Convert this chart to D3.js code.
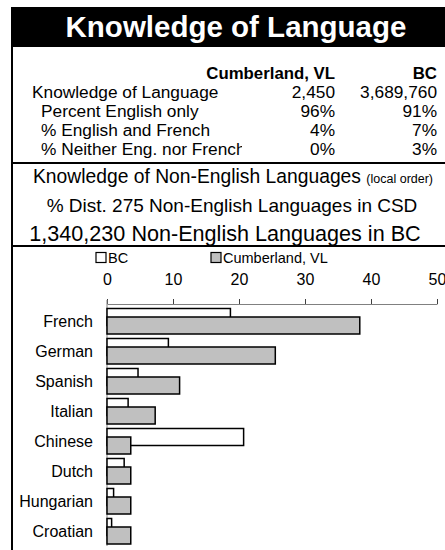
<!DOCTYPE html>
<html>
<head>
<meta charset="utf-8">
<title>Knowledge of Language</title>
<script src="https://d3js.org/d3.v7.min.js"></script>
<style>
  body { margin: 0; background: #fff; }
  svg { display: block; font-family: "Liberation Sans", Arial, sans-serif; }
</style>
</head>
<body>
<div id="chart"></div>
<script>
// table values
const tableCols = ["Cumberland, VL", "BC"];
const tableRows = ["Knowledge of Language", "Percent English only", "% English and French", "% Neither Eng. nor French"];
const cumbCol = ["2,450", "96%", "4%", "0%"];
const bcCol = ["3,689,760", "91%", "7%", "3%"];

// chart values (% distribution)
const categories = ["French", "German", "Spanish", "Italian", "Chinese", "Dutch", "Hungarian", "Croatian"];
const bcValues = [18.7, 9.3, 4.7, 3.2, 20.7, 2.6, 1.0, 0.7];
const cumbValues = [38.3, 25.5, 11.0, 7.3, 3.6, 3.6, 3.6, 3.6];
const xTicks = [0, 10, 20, 30, 40, 50];
const seriesNames = ["BC", "Cumberland, VL"];

const width = 445, height = 550;

const svg = d3.select("#chart")
  .append("svg")
  .attr("width", width)
  .attr("height", height);

// black title banner
svg.append("rect")
  .attr("x", 11).attr("y", 7)
  .attr("width", width).attr("height", 40)
  .attr("fill", "#000");

svg.append("text")
  .attr("x", 236).attr("y", 37)
  .attr("text-anchor", "middle")
  .attr("fill", "#fff")
  .attr("font-weight", "bold")
  .attr("font-size", 29.5)
  .text("Knowledge of Language");

// box borders
svg.append("line")
  .attr("x1", 12).attr("x2", 12).attr("y1", 47).attr("y2", height)
  .attr("stroke", "#000").attr("stroke-width", 2);
[163, 246].forEach(y => {
  svg.append("line")
    .attr("x1", 11).attr("x2", width).attr("y1", y).attr("y2", y)
    .attr("stroke", "#000").attr("stroke-width", 2);
});

// table
const table = svg.append("g").attr("font-size", 17.3).attr("fill", "#000");
table.append("text").attr("x", 335).attr("y", 78.5).attr("text-anchor", "end")
  .attr("font-weight", "bold").attr("font-size", 16.8).text(tableCols[0]);
table.append("text").attr("x", 437).attr("y", 78.5).attr("text-anchor", "end")
  .attr("font-weight", "bold").attr("font-size", 16.8).text(tableCols[1]);

// last row label is cut off by the value column in the original
svg.append("clipPath").attr("id", "rowclip")
  .append("rect").attr("x", 0).attr("y", 0).attr("width", 242).attr("height", 200);

const rowY = i => 98 + i * 19;
table.selectAll(".rowlabel")
  .data(tableRows)
  .join("text")
  .attr("class", "rowlabel")
  .attr("clip-path", "url(#rowclip)")
  .attr("x", (d, i) => i === 0 ? 32 : 41)
  .attr("y", (d, i) => rowY(i))
  .text(d => d);
table.selectAll(".cumb")
  .data(cumbCol)
  .join("text")
  .attr("class", "cumb")
  .attr("x", 335).attr("y", (d, i) => rowY(i))
  .attr("text-anchor", "end")
  .text(d => d);
table.selectAll(".bc")
  .data(bcCol)
  .join("text")
  .attr("class", "bc")
  .attr("x", 437).attr("y", (d, i) => rowY(i))
  .attr("text-anchor", "end")
  .text(d => d);

// chart subtitle
const sub = svg.append("g").attr("text-anchor", "middle").attr("fill", "#000");
const t1 = sub.append("text").attr("x", 233).attr("y", 183).attr("font-size", 19.3);
t1.append("tspan").text("Knowledge of Non-English Languages ");
t1.append("tspan").attr("font-size", 12.5).text("(local order)");
sub.append("text").attr("x", 232).attr("y", 212).attr("font-size", 19)
  .text("% Dist. 275 Non-English Languages in CSD");
sub.append("text").attr("x", 225).attr("y", 241).attr("font-size", 21.6)
  .text("1,340,230 Non-English Languages in BC");

// scales
const x = d3.scaleLinear().domain([0, 50]).range([107, 437]);
const y = d3.scaleBand().domain(categories).range([306, 546]);
const barH = 17;

// legend
const legend = svg.append("g").attr("font-size", 14.5);
const legX = [96, 211];
const legFill = ["#fff", "#c0c0c0"];
seriesNames.forEach((name, i) => {
  legend.append("rect")
    .attr("x", legX[i]).attr("y", 252.5)
    .attr("width", 10).attr("height", 10)
    .attr("fill", legFill[i]).attr("stroke", "#000").attr("stroke-width", 1.2);
  legend.append("text")
    .attr("x", legX[i] + 12).attr("y", 263)
    .text(name);
});

// top axis
const xAxis = svg.append("g")
  .attr("transform", "translate(0,304)")
  .call(d3.axisTop(x).tickValues(xTicks).tickSize(5).tickPadding(14).tickSizeOuter(0));
xAxis.select(".domain").attr("stroke", "#808080");
xAxis.selectAll(".tick line").attr("stroke", "#404040");
xAxis.selectAll(".tick text")
  .attr("font-size", 16)
  .attr("font-family", "Liberation Sans, Arial, sans-serif")
  .attr("fill", "#000");

// left axis line
svg.append("line")
  .attr("x1", x(0)).attr("x2", x(0)).attr("y1", 300).attr("y2", 546)
  .attr("stroke", "#808080").attr("stroke-width", 1);

// category labels
svg.selectAll(".cat")
  .data(categories)
  .join("text")
  .attr("class", "cat")
  .attr("x", 93)
  .attr("y", d => y(d) + y.bandwidth() / 2 + 5.5)
  .attr("text-anchor", "end")
  .attr("font-size", 16)
  .text(d => d);

// bars: BC behind, Cumberland overlapping on top
svg.selectAll(".bar-bc")
  .data(categories)
  .join("rect")
  .attr("class", "bar-bc")
  .attr("x", x(0))
  .attr("y", d => y(d) + y.bandwidth() / 2 - 12.5)
  .attr("width", (d, i) => x(bcValues[i]) - x(0))
  .attr("height", barH)
  .attr("fill", "#fff")
  .attr("stroke", "#000")
  .attr("stroke-width", 1.5);

svg.selectAll(".bar-cumb")
  .data(categories)
  .join("rect")
  .attr("class", "bar-cumb")
  .attr("x", x(0))
  .attr("y", d => y(d) + y.bandwidth() / 2 - 4)
  .attr("width", (d, i) => x(cumbValues[i]) - x(0))
  .attr("height", barH)
  .attr("fill", "#c0c0c0")
  .attr("stroke", "#000")
  .attr("stroke-width", 1.5);
</script>
</body>
</html>
